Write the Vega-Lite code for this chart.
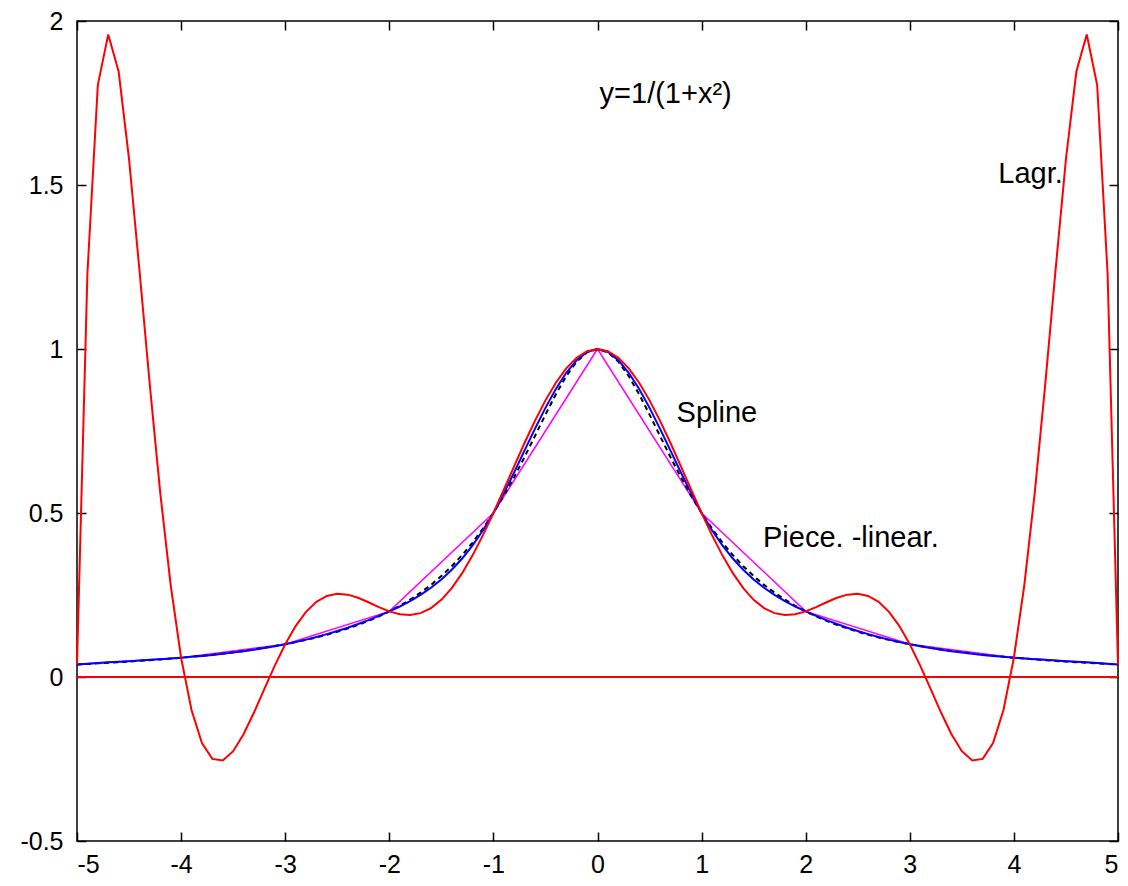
{
  "$schema": "https://vega.github.io/schema/vega-lite/v6.json",
  "width": 1041,
  "height": 820,
  "autosize": "none",
  "padding": {"left": 77, "top": 21, "right": 10, "bottom": 45},
  "background": "white",
  "config": {
    "view": {"stroke": "black", "strokeWidth": 1.5},
    "axis": {
      "domain": false,
      "grid": false,
      "ticks": true,
      "tickColor": "black",
      "tickWidth": 1.5,
      "tickSize": -9,
      "labelFont": "Liberation Sans",
      "labelFontSize": 25,
      "labelColor": "black",
      "title": null
    }
  },
  "datasets": {
    "zero": [{"x": -5, "y": 0}, {"x": 5, "y": 0}],
    "nodes": [
      {"x": -5, "y": 0.03846}, {"x": -4, "y": 0.05882}, {"x": -3, "y": 0.1}, {"x": -2, "y": 0.2}, {"x": -1, "y": 0.5},
      {"x": 0, "y": 1}, {"x": 1, "y": 0.5}, {"x": 2, "y": 0.2}, {"x": 3, "y": 0.1}, {"x": 4, "y": 0.05882}, {"x": 5, "y": 0.03846}
    ],
    "curves": [
      {"x": -5.0, "lagr": 0.03846, "spl": 0.03846, "f": 0.03846},
      {"x": -4.9, "lagr": 1.23031, "spl": 0.04063, "f": 0.03998},
      {"x": -4.8, "lagr": 1.80439, "spl": 0.04266, "f": 0.04160},
      {"x": -4.7, "lagr": 1.95900, "spl": 0.04460, "f": 0.04331},
      {"x": -4.6, "lagr": 1.84590, "spl": 0.04650, "f": 0.04513},
      {"x": -4.5, "lagr": 1.57871, "spl": 0.04837, "f": 0.04706},
      {"x": -4.4, "lagr": 1.24021, "spl": 0.05027, "f": 0.04912},
      {"x": -4.3, "lagr": 0.88808, "spl": 0.05223, "f": 0.05131},
      {"x": -4.2, "lagr": 0.56044, "spl": 0.05428, "f": 0.05365},
      {"x": -4.1, "lagr": 0.28022, "spl": 0.05647, "f": 0.05615},
      {"x": -4.0, "lagr": 0.05882, "spl": 0.05882, "f": 0.05882},
      {"x": -3.9, "lagr": -0.10072, "spl": 0.06139, "f": 0.06169},
      {"x": -3.8, "lagr": -0.20129, "spl": 0.06420, "f": 0.06477},
      {"x": -3.7, "lagr": -0.24960, "spl": 0.06730, "f": 0.06807},
      {"x": -3.6, "lagr": -0.25460, "spl": 0.07071, "f": 0.07163},
      {"x": -3.5, "lagr": -0.22620, "spl": 0.07448, "f": 0.07547},
      {"x": -3.4, "lagr": -0.17433, "spl": 0.07865, "f": 0.07962},
      {"x": -3.3, "lagr": -0.10832, "spl": 0.08324, "f": 0.08410},
      {"x": -3.2, "lagr": -0.03632, "spl": 0.08831, "f": 0.08897},
      {"x": -3.1, "lagr": 0.03487, "spl": 0.09388, "f": 0.09425},
      {"x": -3.0, "lagr": 0.1, "spl": 0.1, "f": 0.1},
      {"x": -2.9, "lagr": 0.15536, "spl": 0.10670, "f": 0.10627},
      {"x": -2.8, "lagr": 0.19873, "spl": 0.11402, "f": 0.11312},
      {"x": -2.7, "lagr": 0.22923, "spl": 0.12201, "f": 0.12063},
      {"x": -2.6, "lagr": 0.24715, "spl": 0.13070, "f": 0.12887},
      {"x": -2.5, "lagr": 0.25376, "spl": 0.14014, "f": 0.13793},
      {"x": -2.4, "lagr": 0.25102, "spl": 0.15036, "f": 0.14793},
      {"x": -2.3, "lagr": 0.24145, "spl": 0.16142, "f": 0.15898},
      {"x": -2.2, "lagr": 0.22784, "spl": 0.17335, "f": 0.17123},
      {"x": -2.1, "lagr": 0.21309, "spl": 0.18620, "f": 0.18484},
      {"x": -2.0, "lagr": 0.2, "spl": 0.2, "f": 0.2},
      {"x": -1.9, "lagr": 0.19116, "spl": 0.21490, "f": 0.21692},
      {"x": -1.8, "lagr": 0.18878, "spl": 0.23144, "f": 0.23585},
      {"x": -1.7, "lagr": 0.19462, "spl": 0.25026, "f": 0.25707},
      {"x": -1.6, "lagr": 0.20992, "spl": 0.27201, "f": 0.28090},
      {"x": -1.5, "lagr": 0.23535, "spl": 0.29733, "f": 0.30769},
      {"x": -1.4, "lagr": 0.27103, "spl": 0.32687, "f": 0.33784},
      {"x": -1.3, "lagr": 0.31651, "spl": 0.36126, "f": 0.37175},
      {"x": -1.2, "lagr": 0.37083, "spl": 0.40115, "f": 0.40984},
      {"x": -1.1, "lagr": 0.43260, "spl": 0.44718, "f": 0.45249},
      {"x": -1.0, "lagr": 0.5, "spl": 0.5, "f": 0.5},
      {"x": -0.9, "lagr": 0.57095, "spl": 0.55971, "f": 0.55249},
      {"x": -0.8, "lagr": 0.64316, "spl": 0.62423, "f": 0.60976},
      {"x": -0.7, "lagr": 0.71423, "spl": 0.69095, "f": 0.67114},
      {"x": -0.6, "lagr": 0.78175, "spl": 0.75725, "f": 0.73529},
      {"x": -0.5, "lagr": 0.84341, "spl": 0.82053, "f": 0.8},
      {"x": -0.4, "lagr": 0.89708, "spl": 0.87817, "f": 0.86207},
      {"x": -0.3, "lagr": 0.94090, "spl": 0.92755, "f": 0.91743},
      {"x": -0.2, "lagr": 0.97335, "spl": 0.96606, "f": 0.96154},
      {"x": -0.1, "lagr": 0.99328, "spl": 0.99108, "f": 0.99010},
      {"x": 0.0, "lagr": 1, "spl": 1, "f": 1},
      {"x": 0.1, "lagr": 0.99328, "spl": 0.99108, "f": 0.99010},
      {"x": 0.2, "lagr": 0.97335, "spl": 0.96606, "f": 0.96154},
      {"x": 0.3, "lagr": 0.94090, "spl": 0.92755, "f": 0.91743},
      {"x": 0.4, "lagr": 0.89708, "spl": 0.87817, "f": 0.86207},
      {"x": 0.5, "lagr": 0.84341, "spl": 0.82053, "f": 0.8},
      {"x": 0.6, "lagr": 0.78175, "spl": 0.75725, "f": 0.73529},
      {"x": 0.7, "lagr": 0.71423, "spl": 0.69095, "f": 0.67114},
      {"x": 0.8, "lagr": 0.64316, "spl": 0.62423, "f": 0.60976},
      {"x": 0.9, "lagr": 0.57095, "spl": 0.55971, "f": 0.55249},
      {"x": 1.0, "lagr": 0.5, "spl": 0.5, "f": 0.5},
      {"x": 1.1, "lagr": 0.43260, "spl": 0.44718, "f": 0.45249},
      {"x": 1.2, "lagr": 0.37083, "spl": 0.40115, "f": 0.40984},
      {"x": 1.3, "lagr": 0.31651, "spl": 0.36126, "f": 0.37175},
      {"x": 1.4, "lagr": 0.27103, "spl": 0.32687, "f": 0.33784},
      {"x": 1.5, "lagr": 0.23535, "spl": 0.29733, "f": 0.30769},
      {"x": 1.6, "lagr": 0.20992, "spl": 0.27201, "f": 0.28090},
      {"x": 1.7, "lagr": 0.19462, "spl": 0.25026, "f": 0.25707},
      {"x": 1.8, "lagr": 0.18878, "spl": 0.23144, "f": 0.23585},
      {"x": 1.9, "lagr": 0.19116, "spl": 0.21490, "f": 0.21692},
      {"x": 2.0, "lagr": 0.2, "spl": 0.2, "f": 0.2},
      {"x": 2.1, "lagr": 0.21309, "spl": 0.18620, "f": 0.18484},
      {"x": 2.2, "lagr": 0.22784, "spl": 0.17335, "f": 0.17123},
      {"x": 2.3, "lagr": 0.24145, "spl": 0.16142, "f": 0.15898},
      {"x": 2.4, "lagr": 0.25102, "spl": 0.15036, "f": 0.14793},
      {"x": 2.5, "lagr": 0.25376, "spl": 0.14014, "f": 0.13793},
      {"x": 2.6, "lagr": 0.24715, "spl": 0.13070, "f": 0.12887},
      {"x": 2.7, "lagr": 0.22923, "spl": 0.12201, "f": 0.12063},
      {"x": 2.8, "lagr": 0.19873, "spl": 0.11402, "f": 0.11312},
      {"x": 2.9, "lagr": 0.15536, "spl": 0.10670, "f": 0.10627},
      {"x": 3.0, "lagr": 0.1, "spl": 0.1, "f": 0.1},
      {"x": 3.1, "lagr": 0.03487, "spl": 0.09388, "f": 0.09425},
      {"x": 3.2, "lagr": -0.03632, "spl": 0.08831, "f": 0.08897},
      {"x": 3.3, "lagr": -0.10832, "spl": 0.08324, "f": 0.08410},
      {"x": 3.4, "lagr": -0.17433, "spl": 0.07865, "f": 0.07962},
      {"x": 3.5, "lagr": -0.22620, "spl": 0.07448, "f": 0.07547},
      {"x": 3.6, "lagr": -0.25460, "spl": 0.07071, "f": 0.07163},
      {"x": 3.7, "lagr": -0.24960, "spl": 0.06730, "f": 0.06807},
      {"x": 3.8, "lagr": -0.20129, "spl": 0.06420, "f": 0.06477},
      {"x": 3.9, "lagr": -0.10072, "spl": 0.06139, "f": 0.06169},
      {"x": 4.0, "lagr": 0.05882, "spl": 0.05882, "f": 0.05882},
      {"x": 4.1, "lagr": 0.28022, "spl": 0.05647, "f": 0.05615},
      {"x": 4.2, "lagr": 0.56044, "spl": 0.05428, "f": 0.05365},
      {"x": 4.3, "lagr": 0.88808, "spl": 0.05223, "f": 0.05131},
      {"x": 4.4, "lagr": 1.24021, "spl": 0.05027, "f": 0.04912},
      {"x": 4.5, "lagr": 1.57871, "spl": 0.04837, "f": 0.04706},
      {"x": 4.6, "lagr": 1.84590, "spl": 0.04650, "f": 0.04513},
      {"x": 4.7, "lagr": 1.95900, "spl": 0.04460, "f": 0.04331},
      {"x": 4.8, "lagr": 1.80439, "spl": 0.04266, "f": 0.04160},
      {"x": 4.9, "lagr": 1.23031, "spl": 0.04063, "f": 0.03998},
      {"x": 5.0, "lagr": 0.03846, "spl": 0.03846, "f": 0.03846}
    ],
    "labels": [
      {"x": 0.02, "y": 1.75, "label": "y=1/(1+x²)"},
      {"x": 3.85, "y": 1.506, "label": "Lagr."},
      {"x": 0.76, "y": 0.777, "label": "Spline"},
      {"x": 1.59, "y": 0.396, "label": "Piece. -linear."}
    ]
  },
  "layer": [
    {
      "data": {"name": "zero"},
      "mark": {"type": "line", "color": "#ff0000", "strokeWidth": 2},
      "encoding": {
        "x": {"field": "x", "type": "quantitative", "scale": {"domain": [-5, 5], "nice": false, "zero": false},
              "axis": {"orient": "bottom", "values": [-5, -4, -3, -2, -1, 0, 1, 2, 3, 4, 5], "labelExpr": "'' + datum.value", "labelPadding": 20}},
        "y": {"field": "y", "type": "quantitative", "scale": {"domain": [-0.5, 2], "nice": false, "zero": false},
              "axis": {"orient": "left", "values": [-0.5, 0, 0.5, 1, 1.5, 2], "labelExpr": "'' + datum.value", "labelPadding": 23}}
      }
    },
    {
      "data": {"name": "nodes"},
      "mark": {"type": "line", "color": "#ff00ff", "strokeWidth": 1.5},
      "encoding": {
        "x": {"field": "x", "type": "quantitative", "scale": {"domain": [-5, 5], "nice": false, "zero": false},
              "axis": {"orient": "top", "values": [-5, -4, -3, -2, -1, 0, 1, 2, 3, 4, 5], "labels": false}},
        "y": {"field": "y", "type": "quantitative", "scale": {"domain": [-0.5, 2], "nice": false, "zero": false},
              "axis": {"orient": "right", "values": [-0.5, 0, 0.5, 1, 1.5, 2], "labels": false}}
      }
    },
    {
      "data": {"name": "curves"},
      "mark": {"type": "line", "color": "#000000", "strokeWidth": 2, "strokeDash": [5, 4]},
      "encoding": {
        "x": {"field": "x", "type": "quantitative", "scale": {"domain": [-5, 5], "nice": false, "zero": false}, "axis": null},
        "y": {"field": "f", "type": "quantitative", "scale": {"domain": [-0.5, 2], "nice": false, "zero": false}, "axis": null}
      }
    },
    {
      "data": {"name": "curves"},
      "mark": {"type": "line", "color": "#0000ff", "strokeWidth": 2},
      "encoding": {
        "x": {"field": "x", "type": "quantitative", "scale": {"domain": [-5, 5], "nice": false, "zero": false}, "axis": null},
        "y": {"field": "spl", "type": "quantitative", "scale": {"domain": [-0.5, 2], "nice": false, "zero": false}, "axis": null}
      }
    },
    {
      "data": {"name": "curves"},
      "mark": {"type": "line", "color": "#ff0000", "strokeWidth": 2},
      "encoding": {
        "x": {"field": "x", "type": "quantitative", "scale": {"domain": [-5, 5], "nice": false, "zero": false}, "axis": null},
        "y": {"field": "lagr", "type": "quantitative", "scale": {"domain": [-0.5, 2], "nice": false, "zero": false}, "axis": null}
      }
    },
    {
      "data": {"name": "labels"},
      "mark": {"type": "text", "align": "left", "baseline": "alphabetic", "font": "Liberation Sans", "fontSize": 29, "color": "black"},
      "encoding": {
        "x": {"field": "x", "type": "quantitative", "scale": {"domain": [-5, 5], "nice": false, "zero": false}, "axis": null},
        "y": {"field": "y", "type": "quantitative", "scale": {"domain": [-0.5, 2], "nice": false, "zero": false}, "axis": null},
        "text": {"field": "label"}
      }
    }
  ],
  "resolve": {"axis": {"x": "independent", "y": "independent"}}
}
